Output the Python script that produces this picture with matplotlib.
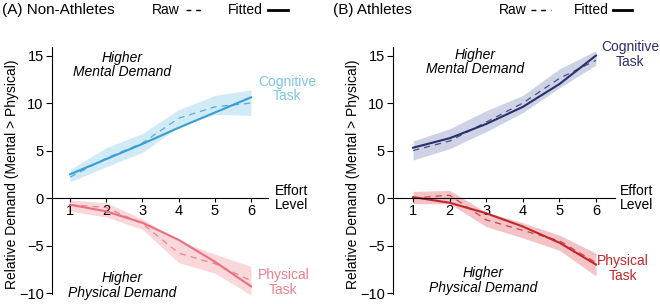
import numpy as np
import matplotlib
matplotlib.use('Agg')
import matplotlib.pyplot as plt
from matplotlib.lines import Line2D

plt.rcParams['font.family'] = ['Liberation Sans', 'DejaVu Sans']

effort = [1, 2, 3, 4, 5, 6]

# Non-athletes
na_cog_fit = [2.5, 4.1, 5.7, 7.4, 9.0, 10.6]
na_cog_raw = [2.2, 4.2, 5.8, 8.4, 9.6, 10.0]
na_cog_lo = [1.7, 3.3, 4.8, 7.5, 8.8, 8.7]
na_cog_hi = [3.0, 5.3, 6.8, 9.3, 10.8, 11.4]
na_phy_fit = [-0.7, -1.4, -2.6, -4.4, -6.7, -9.3]
na_phy_raw = [-0.7, -1.0, -2.7, -5.8, -6.9, -8.7]
na_phy_lo = [-1.4, -2.0, -3.3, -6.8, -7.9, -10.2]
na_phy_hi = [-0.2, -0.5, -2.2, -4.5, -5.9, -7.2]

# Athletes
at_cog_fit = [5.3, 6.3, 7.8, 9.6, 12.0, 15.0]
at_cog_raw = [5.0, 6.0, 8.0, 10.0, 12.6, 14.5]
at_cog_lo = [4.0, 5.2, 7.0, 9.0, 11.6, 14.0]
at_cog_hi = [6.0, 7.3, 9.2, 10.8, 13.6, 15.5]
at_phy_fit = [0.1, -0.5, -1.6, -3.0, -4.7, -7.0]
at_phy_raw = [0.0, 0.3, -2.3, -3.4, -4.5, -6.8]
at_phy_lo = [-0.6, -0.6, -3.0, -4.2, -5.5, -8.2]
at_phy_hi = [0.7, 0.8, -1.5, -2.6, -3.9, -5.8]

yticks = [15, 10, 5, 0, -5, -10]

fig = plt.figure(figsize=(6.6, 3.04), dpi=100)


def panel(rect, xlim, cog, phy, cog_c, phy_c, labels):
    ax = fig.add_axes(rect)
    for (fit, raw, lo, hi), (lc, fc) in ((cog, cog_c), (phy, phy_c)):
        ax.fill_between(effort, lo, hi, color=fc, lw=0)
        ax.plot(effort, raw, color=lc, lw=0.9, ls=(0, (5, 4)), alpha=0.8)
        ax.plot(effort, fit, color=lc, lw=1.5)
    ax.set_xlim(*xlim)
    ax.set_ylim(-10.1, 15.9)
    ax.spines['top'].set_visible(False)
    ax.spines['right'].set_visible(False)
    ax.spines['bottom'].set_position(('data', 0))
    ax.spines['left'].set_bounds(-10.1, 15.9)
    ax.set_xticks(effort)
    ax.set_yticks(yticks)
    ax.tick_params(axis='x', direction='out', length=3, labelsize=10.5, pad=1)
    ax.tick_params(axis='y', direction='out', length=4, labelsize=10.5, pad=2)
    ax.patch.set_alpha(0)
    for txt, x, y, c, kw in labels:
        ax.text(x, y, txt, color=c, ha='center', va='center', fontsize=10,
                linespacing=1.05, clip_on=False, **kw)
    return ax


na_cog_col = ('#3a9ed2', '#d0eaf6')
na_phy_col = ('#e8707e', '#fad7db')
at_cog_col = ('#2b2e6d', '#cdd2e4')
at_phy_col = ('#c1272d', '#f3c3c5')

panel([52 / 660, 10 / 304, 216 / 660, 247 / 304], (0.5, 6.47),
      (na_cog_fit, na_cog_raw, na_cog_lo, na_cog_hi),
      (na_phy_fit, na_phy_raw, na_phy_lo, na_phy_hi),
      na_cog_col, na_phy_col,
      [('Higher\nMental Demand', 2.44, 14.0, 'black', dict(style='italic')),
       ('Higher\nPhysical Demand', 2.44, -9.2, 'black', dict(style='italic')),
       ('Cognitive\nTask', 7.0, 11.5, '#7cc6e6', {}),
       ('Physical\nTask', 6.9, -8.9, '#ef7f8c', {}),
       ('Effort\nLevel', 7.13, 0.0, 'black', {})])

panel([393 / 660, 10 / 304, 222 / 660, 247 / 304], (0.45, 6.52),
      (at_cog_fit, at_cog_raw, at_cog_lo, at_cog_hi),
      (at_phy_fit, at_phy_raw, at_phy_lo, at_phy_hi),
      at_cog_col, at_phy_col,
      [('Higher\nMental Demand', 2.69, 14.3, 'black', dict(style='italic')),
       ('Higher\nPhysical Demand', 2.91, -8.7, 'black', dict(style='italic')),
       ('Cognitive\nTask', 6.93, 15.1, at_cog_col[0], {}),
       ('Physical\nTask', 6.74, -7.4, at_phy_col[0], {}),
       ('Effort\nLevel', 7.12, 0.0, 'black', {})])

W, H = 660, 304
ylab = 'Relative Demand (Mental > Physical)'
fig.text(12 / W, 1 - 174 / H, ylab, rotation=90, ha='center', va='center', fontsize=10)
fig.text(353 / W, 1 - 174 / H, ylab, rotation=90, ha='center', va='center', fontsize=10)

# panel titles and line-style key
for title, tx, rx, dash_x, fx, line_x in (
        ('(A) Non-Athletes', 2, 152, (186, 205), 228, (268, 288)),
        ('(B) Athletes', 333, 499, (531, 551), 574, (613, 632))):
    fig.text(tx / W, 1 - 10 / H, title, ha='left', va='center', fontsize=11)
    fig.text(rx / W, 1 - 10 / H, 'Raw', ha='left', va='center', fontsize=10)
    fig.text(fx / W, 1 - 10 / H, 'Fitted', ha='left', va='center', fontsize=10)
    fig.add_artist(Line2D([dash_x[0] / W, dash_x[1] / W], [1 - 10 / H] * 2,
                          color='black', lw=1.0, ls=(0, (3.5, 3.5))))
    fig.add_artist(Line2D([line_x[0] / W, line_x[1] / W], [1 - 10 / H] * 2,
                          color='black', lw=2.0))

fig.savefig('out.png', dpi=100)
